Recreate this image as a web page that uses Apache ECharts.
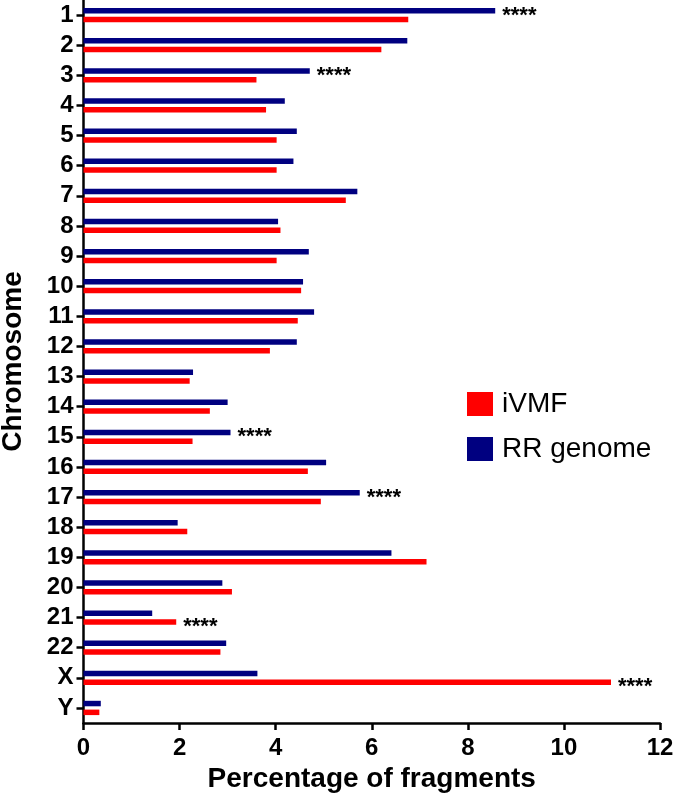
<!DOCTYPE html>
<html>
<head>
<meta charset="utf-8">
<script src="https://cdn.jsdelivr.net/npm/echarts@6/dist/echarts.min.js"></script>
<style>
  html, body { margin: 0; padding: 0; background: #fff; }
  #main { width: 675px; height: 801px; }
</style>
</head>
<body>
<div id="main"></div>
<script>
  // chromosome categories, top to bottom
  var chromosomes = ['1','2','3','4','5','6','7','8','9','10','11','12','13','14','15','16','17','18','19','20','21','22','X','Y'];
  // percentage of fragments
  var ivmfValues = [6.76, 6.20, 3.60, 3.80, 4.02, 4.02, 5.46, 4.10, 4.02, 4.53, 4.46, 3.88, 2.21, 2.63, 2.27, 4.67, 4.94, 2.16, 7.14, 3.09, 1.93, 2.85, 10.98, 0.33];
  var rrValues   = [8.57, 6.74, 4.71, 4.19, 4.44, 4.37, 5.70, 4.05, 4.69, 4.57, 4.80, 4.44, 2.28, 3.00, 3.06, 5.05, 5.75, 1.96, 6.41, 2.89, 1.43, 2.97, 3.62, 0.36];
  // where the **** marks sit
  var sigRR = ['1', '3', '15', '17'];
  var sigIVMF = ['21', 'X'];
  var xTicks = [0, 2, 4, 6, 8, 10, 12];

  var font = "'Liberation Sans', Arial, sans-serif";

  var starLabel = {
    show: true,
    position: 'right',
    distance: 7,
    formatter: '****',
    color: '#000',
    fontSize: 22,
    fontWeight: 'bold',
    fontFamily: font,
    offset: [0, 5]
  };

  function withStars(values, sig) {
    return values.map(function (v, i) {
      if (sig.indexOf(chromosomes[i]) >= 0) {
        return { value: v, label: starLabel };
      }
      return v;
    });
  }

  var myChart = echarts.init(document.getElementById('main'));

  var option = {
    backgroundColor: '#fff',
    animation: false,
    grid: { left: 83.5, right: 15, top: 0, bottom: 78, containLabel: false, outerBoundsMode: 'none' },
    legend: {
      data: ['iVMF', 'RR genome'],
      orient: 'vertical',
      left: 462,
      top: 385,
      icon: 'rect',
      itemWidth: 26,
      itemHeight: 24,
      itemGap: 17,
      textStyle: { fontSize: 28, color: '#000', fontFamily: font, padding: [0, 0, 0, 4] }
    },
    xAxis: {
      type: 'value',
      min: xTicks[0],
      max: xTicks[xTicks.length - 1],
      interval: 2,
      name: 'Percentage of fragments',
      nameLocation: 'middle',
      nameGap: 42,
      nameTextStyle: { fontSize: 28, fontWeight: 'bold', color: '#000', fontFamily: font },
      axisLine: { show: true, lineStyle: { color: '#000', width: 2.5 } },
      axisTick: { show: true, length: 7, lineStyle: { color: '#000', width: 2.5 } },
      axisLabel: { fontSize: 24, fontWeight: 'bold', color: '#000', fontFamily: font, margin: 13 },
      splitLine: { show: false }
    },
    yAxis: {
      type: 'category',
      data: chromosomes,
      inverse: true,
      name: 'Chromosome',
      nameLocation: 'middle',
      nameGap: 56,
      nameTextStyle: { fontSize: 28, fontWeight: 'bold', color: '#000', fontFamily: font },
      axisLine: { show: true, lineStyle: { color: '#000', width: 2.5 } },
      axisTick: { show: true, interval: 0, alignWithLabel: true, length: 7, lineStyle: { color: '#000', width: 2.5 } },
      axisLabel: { interval: 0, fontSize: 24, fontWeight: 'bold', color: '#000', fontFamily: font, margin: 10 },
      splitLine: { show: false }
    },
    series: [
      {
        name: 'RR genome',
        type: 'bar',
        barWidth: 5.5,
        barGap: '60%',
        itemStyle: { color: '#000080' },
        data: withStars(rrValues, sigRR)
      },
      {
        name: 'iVMF',
        type: 'bar',
        barWidth: 5.5,
        barGap: '60%',
        itemStyle: { color: '#ff0000' },
        data: withStars(ivmfValues, sigIVMF)
      }
    ]
  };

  myChart.setOption(option);
</script>
</body>
</html>
